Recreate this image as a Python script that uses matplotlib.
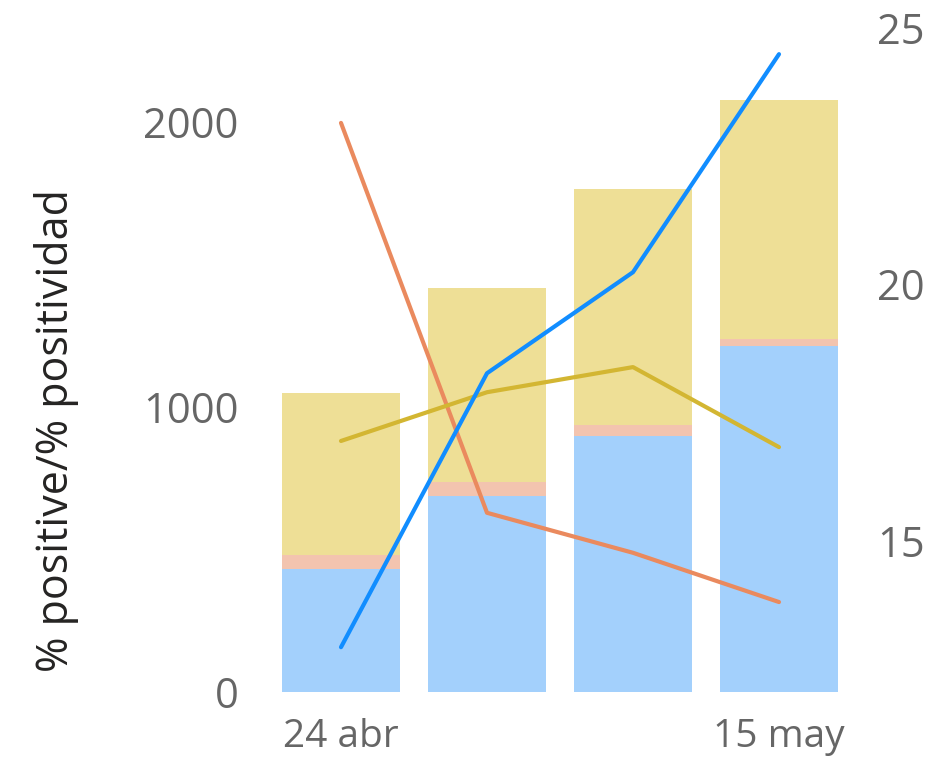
import matplotlib
matplotlib.use("Agg")
import matplotlib.pyplot as plt
import numpy as np

categories = ["24 abr", "1 may", "8 may", "15 may"]
shown_labels = ["24 abr", "", "", "15 may"]

# stacked bars (left axis)
bar_blue = [432, 688, 898, 1214]
bar_pink = [49, 49, 39, 25]
bar_yellow = [568, 681, 828, 838]

# lines (right axis)
line_blue = [12.93, 18.27, 20.24, 24.49]
line_orange = [23.15, 15.55, 14.77, 13.81]
line_gold = [16.95, 17.90, 18.39, 16.83]

plt.rcParams['font.family'] = ['Open Sans', 'DejaVu Sans']

W, H = 950, 770
fig = plt.figure(figsize=(W / 100, H / 100), dpi=100)
left, right, bottom, top = 268, 852, 692, 10
ax = fig.add_axes([left / W, 1 - bottom / H, (right - left) / W, (bottom - top) / H])

x = np.arange(len(categories))
bw = 118 / 146
c_blue_bar = "#A3D0FC"
c_pink_bar = "#F3C4AF"
c_yel_bar = "#EEDF96"
ax.bar(x, bar_blue, width=bw, color=c_blue_bar, linewidth=0, zorder=2)
b1 = np.array(bar_blue)
ax.bar(x, bar_pink, width=bw, bottom=b1, color=c_pink_bar, linewidth=0, zorder=2)
b2 = b1 + np.array(bar_pink)
ax.bar(x, bar_yellow, width=bw, bottom=b2, color=c_yel_bar, linewidth=0, zorder=2)

ax.set_xlim(-0.5, 3.5)
ax.set_ylim(0, (bottom - top) / 0.285)
ax.set_yticks([0, 1000, 2000])
ax.set_xticks(x)
ax.set_xticklabels(shown_labels)

ax2 = ax.twinx()
px_per_unit = 51.3
ax2.set_ylim(25 - (bottom - 28) / px_per_unit, 25 + (28 - top) / px_per_unit)
ax2.plot(x, line_orange, color="#EA8A5E", lw=3, solid_capstyle="round", zorder=3)
ax2.plot(x, line_gold, color="#D3B632", lw=3, solid_capstyle="round", zorder=3)
ax2.plot(x, line_blue, color="#118DFF", lw=3, solid_capstyle="round", zorder=3)
ax2.set_yticks([15, 20, 25])

tick_color = "#666666"
for a in (ax, ax2):
    for s in a.spines.values():
        s.set_visible(False)
    a.tick_params(length=0, colors=tick_color, labelsize=30)
ax.tick_params(axis="y", pad=21)
ax2.tick_params(axis="y", pad=18)
ax.tick_params(axis="x", pad=19, labelsize=28)

fig.text(57 / W, 1 - 430 / H, "% positive/% positividad", rotation=90,
         ha="center", va="center", fontsize=31, color="#252423")

fig.savefig("out.png", dpi=100)
